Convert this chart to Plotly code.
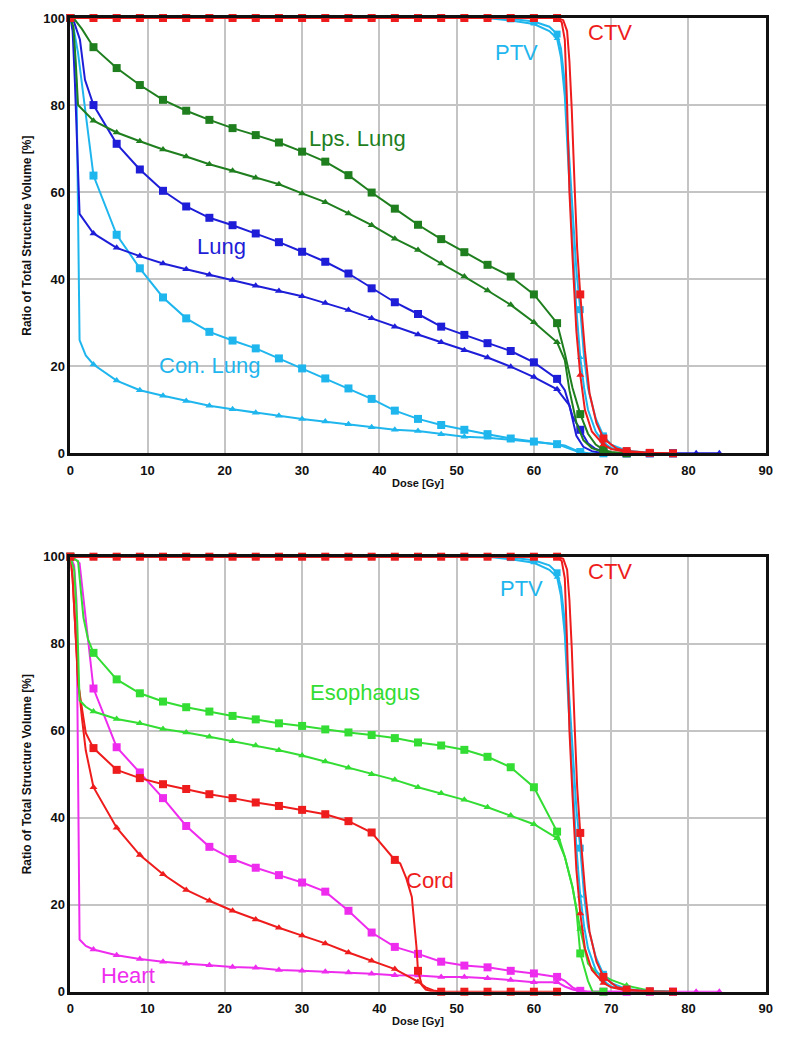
import plotly.graph_objects as go

# ---------------- data (dose in Gy, volume in %) ----------------
# target volumes (same in both panels)
ctv_sq_x = [0, 3, 6, 9, 12, 15, 18, 21, 24, 27, 30, 33, 36, 39, 42, 45, 48, 51, 54, 57, 60, 63,
            63.8, 64.3, 64.6, 64.9, 65.3, 65.6, 66, 66.6, 67.2, 68.1, 69, 70.7, 72, 75, 78]
ctv_sq_y = [100, 100, 100, 100, 100, 100, 100, 100, 100, 100, 100, 100, 100, 100, 100, 100, 100, 100, 100, 100, 100, 100,
            99.5, 97, 90, 79, 60, 47, 36.5, 23.7, 13.8, 6.9, 3.4, 1.1, 0.5, 0.1, 0]
ctv_tri_x = [0, 3, 6, 9, 12, 15, 18, 21, 24, 27, 30, 33, 36, 39, 42, 45, 48, 51, 54, 57, 60, 63,
             63.6, 64, 64.3, 64.6, 65, 65.5, 66, 66.6, 67.5, 68.1, 69, 70, 72, 75]
ctv_tri_y = [100, 100, 100, 100, 100, 100, 100, 100, 100, 100, 100, 100, 100, 100, 100, 100, 100, 100, 100, 100, 100, 100,
             99, 95, 80, 60, 45, 28, 18, 10, 5, 3.8, 2, 1, 0.3, 0]
ptv_sq_x = [0, 3, 6, 9, 12, 15, 18, 21, 24, 27, 30, 33, 36, 39, 42, 45, 48, 51, 54, 57, 60, 62, 63,
            63.5, 64, 64.5, 65, 65.5, 66, 66.5, 67, 68, 69, 70, 72, 75, 78]
ptv_sq_y = [100, 100, 100, 100, 100, 100, 100, 100, 100, 100, 100, 100, 100, 100, 100, 100, 100, 100, 100, 99.8, 99.2, 98, 96.3,
            93, 85, 70, 55, 42, 33, 22, 15, 8, 4, 2, 0.6, 0.1, 0]
ptv_tri_x = [0, 3, 6, 9, 12, 15, 18, 21, 24, 27, 30, 33, 36, 39, 42, 45, 48, 51, 54, 57, 60, 62, 63,
             63.5, 64, 64.5, 65, 65.5, 66, 66.5, 67, 68, 69, 70, 72, 75, 78]
ptv_tri_y = [100, 100, 100, 100, 100, 100, 100, 100, 100, 100, 100, 100, 100, 100, 100, 100, 100, 100, 100, 99.4, 98.6, 97, 95.3,
             91, 82, 65, 48, 33, 22, 15, 10, 5, 2.5, 1.2, 0.3, 0, 0]

# top panel organs
lps_sq_x = [0, 0.5, 1.5, 3, 6, 9, 12, 15, 18, 21, 24, 27, 30, 33, 36, 39, 42, 45, 48, 51, 54, 57, 60, 63,
            64, 65, 66, 67, 68, 69, 70, 72]
lps_sq_y = [100, 99.8, 97.5, 93.3, 88.5, 84.6, 81.2, 78.7, 76.6, 74.7, 73.1, 71.4, 69.3, 67.0, 63.9, 59.9, 56.2,
            52.5, 49.2, 46.2, 43.3, 40.6, 36.5, 29.9, 23, 15, 9.0, 4.5, 2, 0.8, 0.3, 0]
lps_tri_x = [0, 0.4, 0.7, 1, 3, 6, 9, 12, 15, 18, 21, 24, 27, 30, 33, 36, 39, 42, 45, 48, 51, 54, 57, 60, 63,
             64, 64.6, 65.5, 66.4, 67.5, 69, 70]
lps_tri_y = [100, 98, 90, 80, 76.4, 73.7, 71.7, 69.8, 68.2, 66.4, 64.9, 63.3, 61.8, 59.7, 57.7, 55.1, 52.4, 49.3,
             46.7, 43.6, 40.6, 37.4, 34.1, 30.1, 25.5, 21.4, 14.5, 7, 3, 1.2, 0.3, 0]
lung_sq_x = [0, 0.5, 1.25, 1.9, 3, 6, 9, 12, 15, 18, 21, 24, 27, 30, 33, 36, 39, 42, 45, 48, 51, 54, 57, 60, 63,
             64, 65, 66, 67, 68, 69, 70, 72, 75, 78]
lung_sq_y = [100, 99, 95, 85.8, 80.0, 71.1, 65.2, 60.3, 56.7, 54.1, 52.4, 50.5, 48.5, 46.3, 44.0, 41.3, 37.9, 34.7,
             32.0, 29.1, 27.2, 25.3, 23.5, 20.9, 17.1, 14.5, 8.5, 5.4, 2.3, 1, 0.4, 0.1, 0, 0, 0]
lung_tri_x = [0, 0.3, 0.6, 0.9, 1.2, 3, 6, 9, 12, 15, 18, 21, 24, 27, 30, 33, 36, 39, 42, 45, 48, 51, 54, 57, 60, 63,
              64, 64.6, 65.5, 66.4, 67.5, 69, 72, 75, 78, 81, 84]
lung_tri_y = [100, 97, 85, 70, 55, 50.5, 47.2, 45.3, 43.6, 42.3, 41.0, 39.8, 38.5, 37.3, 36.1, 34.5, 32.9, 31.0, 29.1,
              27.3, 25.5, 23.7, 22.0, 19.9, 17.5, 14.7, 12.5, 11, 4, 1.5, 0.5, 0, 0, 0, 0, 0, 0]
con_sq_x = [0, 0.5, 1, 1.5, 2, 3, 6, 9, 12, 15, 18, 21, 24, 27, 30, 33, 36, 39, 42, 45, 48, 51, 54, 57, 60, 63,
            64, 65, 66, 67, 69, 72, 75, 78]
con_sq_y = [100, 97, 92, 85, 77, 63.8, 50.2, 42.5, 35.8, 31.0, 27.9, 25.9, 24.1, 21.8, 19.5, 17.2, 14.9, 12.5, 9.8,
            7.9, 6.5, 5.4, 4.4, 3.4, 2.7, 2.1, 1.8, 1, 0.3, 0, 0, 0, 0, 0]
con_tri_x = [0, 0.4, 0.8, 1.0, 1.2, 2, 3, 6, 9, 12, 15, 18, 21, 24, 27, 30, 33, 36, 39, 42, 45, 48, 51, 54, 57, 60, 63,
             65, 66, 67]
con_tri_y = [100, 97, 85, 50, 26, 22.5, 20.4, 16.7, 14.5, 13.2, 12.0, 10.9, 10.1, 9.3, 8.6, 7.9, 7.3, 6.7, 6.0, 5.4,
             5.1, 4.4, 3.8, 3.6, 3.1, 2.6, 2.1, 0.8, 0.2, 0]

# bottom panel organs
eso_sq_x = [0, 1, 1.7, 2.3, 3, 6, 9, 12, 15, 18, 21, 24, 27, 30, 33, 36, 39, 42, 45, 48, 51, 54, 57, 60, 63,
            64, 65, 65.5, 66, 67, 67.6, 69]
eso_sq_y = [100, 99, 86, 81, 77.9, 71.8, 68.6, 66.7, 65.4, 64.4, 63.4, 62.6, 61.7, 61.1, 60.3, 59.6, 59.0, 58.3,
            57.3, 56.6, 55.6, 54.0, 51.6, 47.0, 36.8, 31, 24, 18.8, 8.8, 2.5, 0, 0]
eso_tri_x = [0, 0.5, 0.9, 1.2, 2, 3, 6, 9, 12, 15, 18, 21, 24, 27, 30, 33, 36, 39, 42, 45, 48, 51, 54, 57, 60, 63,
             64, 65, 66, 67, 68, 69, 70, 72, 75, 78]
eso_tri_y = [100, 97, 85, 67, 65.5, 64.4, 62.7, 61.7, 60.4, 59.6, 58.6, 57.6, 56.6, 55.5, 54.3, 52.9, 51.5, 50.0,
             48.7, 47.0, 45.6, 44.1, 42.4, 40.5, 38.5, 35.3, 31, 24, 14.4, 6.5, 4.5, 3.7, 2.7, 1.4, 0.2, 0]
cord_sq_x = [0, 0.3, 0.6, 1, 2, 3, 6, 9, 12, 15, 18, 21, 24, 27, 30, 33, 36, 39, 42, 42.7, 43.5, 44.2, 44.8, 45,
             45.5, 46, 47, 48, 51, 54, 57, 60, 63]
cord_sq_y = [100, 95, 85, 71, 59.5, 56.0, 51.0, 49.1, 47.7, 46.6, 45.4, 44.5, 43.5, 42.7, 41.8, 40.8, 39.2, 36.6,
             30.3, 29.5, 26, 21.8, 10.3, 4.8, 1.5, 0.5, 0, 0, 0, 0, 0, 0, 0]
cord_tri_x = [0, 0.3, 0.7, 1, 1.5, 2, 3, 6, 9, 12, 15, 18, 21, 24, 27, 30, 33, 36, 39, 42, 45, 46, 47, 48]
cord_tri_y = [100, 95, 82, 72, 63, 55.5, 47.0, 37.7, 31.4, 27.0, 23.4, 20.9, 18.6, 16.6, 14.7, 12.9, 11.1, 9.0,
              7.1, 5.2, 2.3, 1, 0.3, 0]
heart_sq_x = [0, 0.6, 1.2, 3, 6, 9, 12, 15, 18, 21, 24, 27, 30, 33, 36, 39, 42, 45, 48, 51, 54, 57, 60, 63,
              64, 65, 66, 67, 69, 72, 75, 78]
heart_sq_y = [100, 99.5, 98.5, 69.7, 56.2, 50.4, 44.5, 38.1, 33.3, 30.5, 28.5, 26.8, 25.1, 23.0, 18.6, 13.6, 10.3,
              8.7, 6.9, 6.0, 5.6, 4.8, 4.2, 3.4, 2.5, 1, 0.2, 0, 0, 0, 0, 0]
heart_tri_x = [0, 0.5, 0.8, 1.0, 1.2, 2, 3, 6, 9, 12, 15, 18, 21, 24, 27, 30, 33, 36, 39, 42, 45, 48, 51, 54, 57,
               60, 63, 64, 65, 66, 67, 69, 72, 75, 78, 81, 84]
heart_tri_y = [100, 98, 90, 40, 12, 10.5, 9.7, 8.4, 7.5, 6.9, 6.4, 6.1, 5.7, 5.5, 5.0, 4.8, 4.6, 4.4, 4.1, 3.8,
               3.7, 3.4, 3.4, 3.1, 2.7, 2.2, 2.2, 1.2, 0.5, 0.1, 0, 0, 0, 0, 0, 0, 0]

X_TICKS = [0, 10, 20, 30, 40, 50, 60, 70, 80, 90]
Y_TICKS = [0, 20, 40, 60, 80, 100]

# ---------------- styles ----------------
RED = "#ee1c1c"
CYAN = "#1fb6ee"
DKGREEN = "#1f7f1f"
BLUE = "#1e1ed8"
LTGREEN = "#33dd33"
MAGENTA = "#ee2cee"


def is_mark(v):
    return abs(v / 3 - round(v / 3)) < 1e-9


def add_curve(fig, x, y, color, symbol, size, xa, ya):
    fig.add_trace(go.Scatter(
        x=x, y=y, mode="lines", xaxis=xa, yaxis=ya,
        line=dict(color=color, width=2),
        showlegend=False, hoverinfo="skip",
    ))
    mx = [v for v in x if is_mark(v)]
    my = [w for v, w in zip(x, y) if is_mark(v)]
    fig.add_trace(go.Scatter(
        x=mx, y=my, mode="markers", xaxis=xa, yaxis=ya,
        marker=dict(symbol=symbol, size=size, color=color, opacity=1, line=dict(width=0)),
        cliponaxis=False, showlegend=False, hoverinfo="skip",
    ))


fig = go.Figure()

top = [
    (con_tri_x, con_tri_y, CYAN, "triangle-up", 7),
    (con_sq_x, con_sq_y, CYAN, "square", 8),
    (lung_tri_x, lung_tri_y, BLUE, "triangle-up", 7),
    (lung_sq_x, lung_sq_y, BLUE, "square", 8),
    (lps_tri_x, lps_tri_y, DKGREEN, "triangle-up", 7),
    (lps_sq_x, lps_sq_y, DKGREEN, "square", 8),
]
bottom = [
    (heart_tri_x, heart_tri_y, MAGENTA, "triangle-up", 7),
    (heart_sq_x, heart_sq_y, MAGENTA, "square", 8),
    (cord_tri_x, cord_tri_y, RED, "triangle-up", 7),
    (cord_sq_x, cord_sq_y, RED, "square", 8),
    (eso_tri_x, eso_tri_y, LTGREEN, "triangle-up", 7),
    (eso_sq_x, eso_sq_y, LTGREEN, "square", 8),
]
targets = [
    (ptv_tri_x, ptv_tri_y, CYAN, "triangle-up", 6),
    (ptv_sq_x, ptv_sq_y, CYAN, "square", 7),
    (ctv_tri_x, ctv_tri_y, RED, "triangle-up", 7),
    (ctv_sq_x, ctv_sq_y, RED, "square", 8),
]

for (x, y, c, s, sz) in top + targets:
    add_curve(fig, x, y, c, s, sz, "x", "y")
for (x, y, c, s, sz) in bottom + targets:
    add_curve(fig, x, y, c, s, sz, "x2", "y2")

# the page body has an 8px default margin, so the figure is drawn 8px smaller
# and all pixel positions are given relative to that offset
OFF = 8
W, H = 789 - OFF, 1050 - OFF
x0, x1 = 70.3 - OFF, 765.7 - OFF
top_t, top_b = 18.0 - OFF, 453.3 - OFF
bot_t, bot_b = 556.7 - OFF, 991.7 - OFF

FAM = "Liberation Sans, Arial, sans-serif"
TICKFONT = dict(family=FAM, size=13, color="#111111", weight="bold")
XTITLEFONT = dict(family=FAM, size=11, color="#111111", weight="bold")
YTITLEFONT = dict(family=FAM, size=12, color="#111111", weight="bold")


def xaxis(anchor):
    return dict(
        domain=[x0 / W, x1 / W], range=[0, 90], anchor=anchor, automargin=False,
        tickvals=X_TICKS, ticktext=[str(v) for v in X_TICKS],
        showgrid=True, gridcolor="#c4c4c4", gridwidth=2, zeroline=False,
        showline=True, linecolor="#111111", linewidth=2.5, mirror=True,
        ticks="outside", ticklen=3, tickcolor="rgba(0,0,0,0)",
        tickfont=TICKFONT,
        title=dict(text="Dose [Gy]", font=XTITLEFONT, standoff=3),
    )


def yaxis(anchor, t, b):
    return dict(
        domain=[1 - b / H, 1 - t / H], range=[0, 100], anchor=anchor, automargin=False,
        tickvals=Y_TICKS, ticktext=[str(v) for v in Y_TICKS],
        showgrid=True, gridcolor="#c4c4c4", gridwidth=2, zeroline=False,
        showline=True, linecolor="#111111", linewidth=2.5, mirror=True,
        ticks="", tickfont=TICKFONT,
        title=dict(text="Ratio of Total Structure Volume [%]", font=YTITLEFONT, standoff=10),
    )


fig.update_layout(
    width=W, height=H, margin=dict(l=0, r=0, t=0, b=0, autoexpand=False),
    paper_bgcolor="white", plot_bgcolor="white", showlegend=False,
    xaxis=xaxis("y"), yaxis=yaxis("x", top_t, top_b),
    xaxis2=xaxis("y2"), yaxis2=yaxis("x2", bot_t, bot_b),
)

labels = [
    ("Lps. Lung", 37.2, 72.4, DKGREEN, "x", "y"),
    ("Lung", 19.6, 47.4, BLUE, "x", "y"),
    ("Con. Lung", 18.1, 20.1, CYAN, "x", "y"),
    ("PTV", 57.7, 92.0, CYAN, "x", "y"),
    ("CTV", 69.8, 96.6, RED, "x", "y"),
    ("Esophagus", 38.1, 68.7, LTGREEN, "x2", "y2"),
    ("Cord", 46.5, 25.5, RED, "x2", "y2"),
    ("Heart", 7.5, 3.8, MAGENTA, "x2", "y2"),
    ("PTV", 58.4, 92.8, CYAN, "x2", "y2"),
    ("CTV", 69.8, 96.6, RED, "x2", "y2"),
]
for text, lx, ly, col, xr, yr in labels:
    fig.add_annotation(text=text, x=lx, y=ly, xref=xr, yref=yr, showarrow=False,
                       xanchor="center", yanchor="middle",
                       font=dict(family=FAM, size=22, color=col))

fig.write_html("out.html")
